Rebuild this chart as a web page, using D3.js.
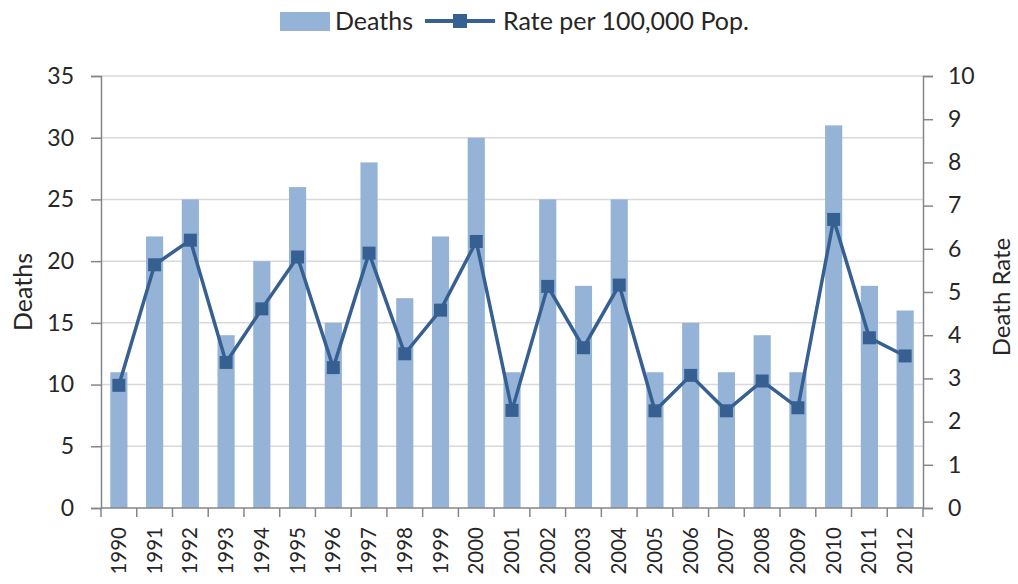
<!DOCTYPE html>
<html><head><meta charset="utf-8">
<script src="https://cdn.jsdelivr.net/npm/d3@7"></script>
<style>
body{margin:0;background:#fff;}
text{font-family:Lato,'Open Sans',sans-serif;fill:#262626;}
</style></head>
<body><svg id="c" width="1018" height="584"></svg>
<script>
const years=["1990","1991","1992","1993","1994","1995","1996","1997","1998","1999","2000","2001","2002","2003","2004","2005","2006","2007","2008","2009","2010","2011","2012"];
const deaths=[11,22,25,14,20,26,15,28,17,22,30,11,25,18,25,11,15,11,14,11,31,18,16];
const rates=[2.84,5.63,6.2,3.37,4.61,5.81,3.25,5.9,3.57,4.58,6.17,2.26,5.13,3.71,5.16,2.25,3.07,2.25,2.94,2.32,6.68,3.94,3.52];
const leftTicks=[0,5,10,15,20,25,30,35];
const rightTicks=[0,1,2,3,4,5,6,7,8,9,10];

const svg=d3.select("#c");
const L=101,R=923,T=76,B=508;
const x=d3.scaleBand().domain(years).range([L,R]).paddingInner(0.52).paddingOuter(0.26);
const y=d3.scaleLinear().domain([0,35]).range([B,T]);
const y2=d3.scaleLinear().domain([0,10]).range([B,T]);
const bar="#95B3D7",line="#376092",grid="#D9D9D9",axc="#868686";

// gridlines
svg.append("g").selectAll("line").data(leftTicks.slice(1)).join("line")
 .attr("x1",L).attr("x2",R).attr("y1",d=>y(d)).attr("y2",d=>y(d))
 .attr("stroke",grid).attr("stroke-width",1.5);

// bars
svg.append("g").selectAll("rect").data(deaths).join("rect")
 .attr("x",(d,i)=>x(years[i])).attr("width",x.bandwidth())
 .attr("y",d=>y(d)).attr("height",d=>B-y(d)).attr("fill",bar);

// axes
const gl=svg.append("g").attr("transform",`translate(${L},0)`)
 .call(d3.axisLeft(y).tickValues(leftTicks).tickSize(10).tickPadding(17));
const gr=svg.append("g").attr("transform",`translate(${R},0)`)
 .call(d3.axisRight(y2).tickValues(rightTicks).tickSize(10).tickPadding(15));
[gl,gr].forEach(g=>{g.select(".domain").attr("stroke",axc).attr("stroke-width",1.5);
 g.selectAll(".tick line").attr("stroke",axc).attr("stroke-width",1.5);
 g.selectAll(".tick text").style("font-size","23px").attr("fill","#262626");});

// bottom axis with ticks at boundaries
const bounds=d3.range(years.length+1).map(i=>L+i*(R-L)/years.length);
svg.append("line").attr("x1",L).attr("x2",R).attr("y1",B).attr("y2",B).attr("stroke",axc).attr("stroke-width",1.5);
svg.append("g").selectAll("line").data(bounds).join("line")
 .attr("x1",d=>d).attr("x2",d=>d).attr("y1",B).attr("y2",B+9).attr("stroke",axc).attr("stroke-width",1.5);
svg.append("g").selectAll("text").data(years).join("text")
 .attr("transform",d=>`translate(${x(d)+x.bandwidth()/2+7},${B+19}) rotate(-90)`)
 .attr("text-anchor","end").style("font-size","20.5px").text(d=>d);

// line
const cx=(i)=>x(years[i])+x.bandwidth()/2;
svg.append("path").datum(rates).attr("fill","none").attr("stroke",line).attr("stroke-width",3.5)
 .attr("d",d3.line().x((d,i)=>cx(i)).y(d=>y2(d)));
svg.append("g").selectAll("rect").data(rates).join("rect")
 .attr("x",(d,i)=>cx(i)-6.5).attr("y",d=>y2(d)-6.5).attr("width",13).attr("height",13).attr("fill",line);

// axis titles
svg.append("text").attr("transform","translate(32,292) rotate(-90)").attr("text-anchor","middle").style("font-size","25px").text("Deaths");
svg.append("text").attr("transform","translate(1010,297) rotate(-90)").attr("text-anchor","middle").style("font-size","24px").text("Death Rate");

// legend
const lg=svg.append("g");
lg.append("rect").attr("x",280).attr("y",12).attr("width",50).attr("height",19).attr("fill",bar);
lg.append("text").attr("x",335).attr("y",30).style("font-size","25px").text("Deaths");
lg.append("line").attr("x1",425).attr("x2",495).attr("y1",21).attr("y2",21).attr("stroke",line).attr("stroke-width",4);
lg.append("rect").attr("x",453).attr("y",14).attr("width",14).attr("height",14).attr("fill",line);
lg.append("text").attr("x",503).attr("y",30).style("font-size","25px").text("Rate per 100,000 Pop.");
</script></body></html>
